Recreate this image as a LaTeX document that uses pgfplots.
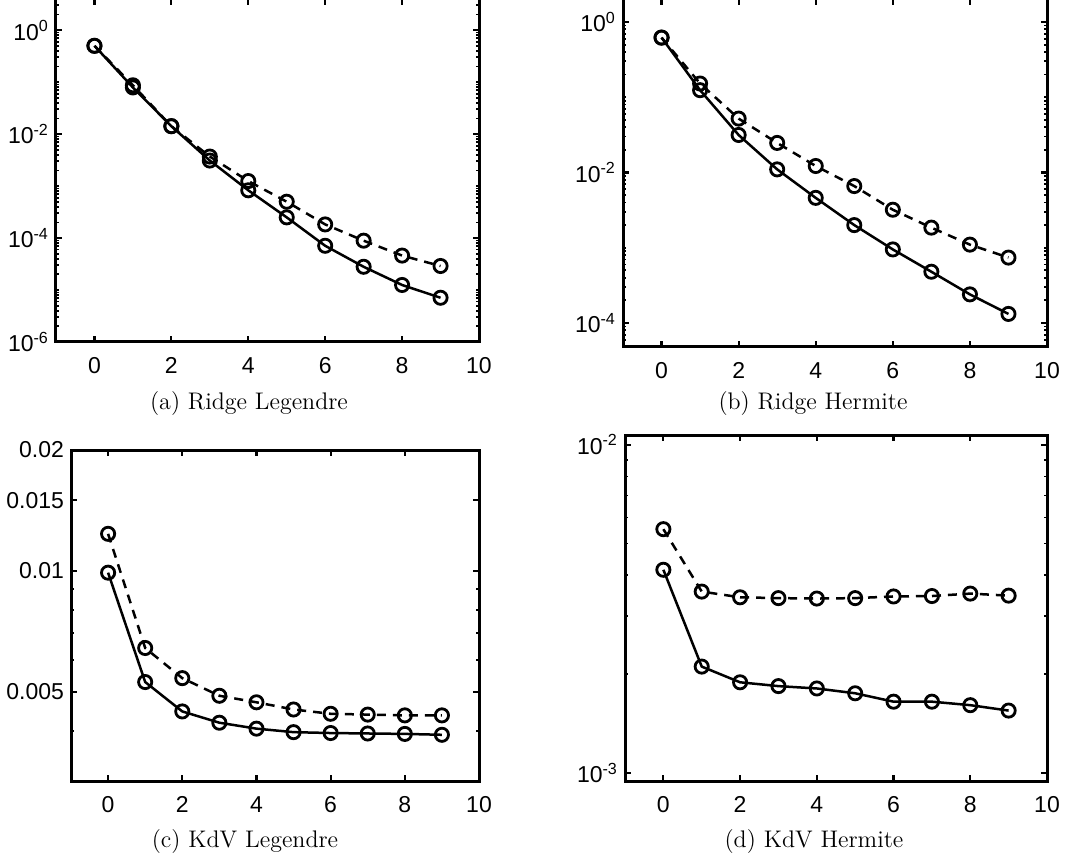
\documentclass[border=0pt]{standalone}
\usepackage{fontspec}
\usepackage{pgfplots}
\pgfplotsset{compat=1.18}
\newfontfamily\tickfont{Liberation Sans}

\pgfplotsset{
  mypanel/.style={
    scale only axis,
    xmin=-1, xmax=10,
    xtick={0,2,4,6,8,10},
    xticklabels={0,2,4,6,8,10},
    tick align=inside,
    axis line style={line width=1.5pt},
    major tick length=2.8pt,
    minor tick length=1.6pt,
    major tick style={black, line width=1.1pt},
    minor tick style={black, line width=0.9pt},
    ticklabel style={font=\tickfont\fontsize{11.5}{14}\selectfont},
    xticklabel style={yshift=-4.4pt},
  },
  solline/.style={black, line width=1.25pt, mark=o, mark size=3.3pt,
    mark options={solid, line width=1.4pt}},
  dashline/.style={solline, dash pattern=on 4.5pt off 3.5pt},
}

\begin{document}
\begin{tikzpicture}
\useasboundingbox (0,0) rectangle (540.5pt,427.5pt);

% (a) Ridge Legendre
\begin{axis}[ymode=log, mypanel, at={(28pt,256.5pt)}, anchor=south west,
  width=211.5pt, height=171.5pt,
  ymin=1e-6, ymax=3.98,
  ytick={1e-6,1e-4,1e-2,1},
  yticklabels={10\textsuperscript{-6},10\textsuperscript{-4},10\textsuperscript{-2},10\textsuperscript{0}},
  minor ytick={2e-6,3e-6,4e-6,5e-6,6e-6,7e-6,8e-6,9e-6,1e-5,2e-5,3e-5,4e-5,5e-5,6e-5,7e-5,8e-5,9e-5,
    2e-4,3e-4,4e-4,5e-4,6e-4,7e-4,8e-4,9e-4,1e-3,2e-3,3e-3,4e-3,5e-3,6e-3,7e-3,8e-3,9e-3,
    2e-2,3e-2,4e-2,5e-2,6e-2,7e-2,8e-2,9e-2,1e-1,2e-1,3e-1,4e-1,5e-1,6e-1,7e-1,8e-1,9e-1,2,3}]
\addplot[dashline] coordinates {(0,0.50) (1,0.087) (2,0.0142) (3,0.0037) (4,1.25e-3) (5,5.0e-4) (6,1.83e-4) (7,8.9e-5) (8,4.6e-5) (9,2.9e-5)};
\addplot[solline] coordinates {(0,0.50) (1,0.079) (2,0.0142) (3,0.0031) (4,8.3e-4) (5,2.5e-4) (6,7.1e-5) (7,2.8e-5) (8,1.25e-5) (9,7.1e-6)};
\end{axis}

% (b) Ridge Hermite
\begin{axis}[ymode=log, mypanel, at={(311.5pt,254pt)}, anchor=south west,
  width=212pt, height=174pt,
  ymin=4.8e-5, ymax=2.02,
  ytick={1e-4,1e-2,1},
  yticklabels={10\textsuperscript{-4},10\textsuperscript{-2},10\textsuperscript{0}},
  minor ytick={5e-5,6e-5,7e-5,8e-5,9e-5,2e-4,3e-4,4e-4,5e-4,6e-4,7e-4,8e-4,9e-4,1e-3,
    2e-3,3e-3,4e-3,5e-3,6e-3,7e-3,8e-3,9e-3,2e-2,3e-2,4e-2,5e-2,6e-2,7e-2,8e-2,9e-2,1e-1,
    2e-1,3e-1,4e-1,5e-1,6e-1,7e-1,8e-1,9e-1}]
\addplot[dashline] coordinates {(0,0.62) (1,0.152) (2,0.052) (3,0.0247) (4,0.0122) (5,6.6e-3) (6,3.2e-3) (7,1.85e-3) (8,1.1e-3) (9,7.4e-4)};
\addplot[solline] coordinates {(0,0.62) (1,0.124) (2,0.0315) (3,0.011) (4,4.6e-3) (5,2.0e-3) (6,9.5e-4) (7,4.8e-4) (8,2.4e-4) (9,1.32e-4)};
\end{axis}

% (c) KdV Legendre
\begin{axis}[ymode=log, mypanel, at={(35.5pt,37pt)}, anchor=south west,
  width=204pt, height=165.5pt,
  ymin=0.003, ymax=0.02,
  ytick={0.005,0.01,0.015,0.02},
  yticklabels={0.005,0.01,0.015,0.02},
  minor ytick={3e-3,4e-3,6e-3,7e-3,8e-3,9e-3}]
\addplot[dashline] coordinates {(0,0.01237) (1,0.00643) (2,0.00541) (3,0.00489) (4,0.00471) (5,0.00452) (6,0.00441) (7,0.00439) (8,0.00437) (9,0.00437)};
\addplot[solline] coordinates {(0,0.0099) (1,0.00529) (2,0.00447) (3,0.00419) (4,0.00405) (5,0.00397) (6,0.00395) (7,0.00394) (8,0.00393) (9,0.00391)};
\end{axis}

% (d) KdV Hermite
\begin{axis}[ymode=log, mypanel, at={(312.5pt,37pt)}, anchor=south west,
  width=211pt, height=173pt,
  ymin=9.46e-4, ymax=1.07e-2,
  ytick={1e-3,1e-2},
  yticklabels={10\textsuperscript{-3},10\textsuperscript{-2}},
  minor ytick={2e-3,3e-3,4e-3,5e-3,6e-3,7e-3,8e-3,9e-3}]
\addplot[dashline] coordinates {(0,5.53e-3) (1,3.57e-3) (2,3.43e-3) (3,3.41e-3) (4,3.40e-3) (5,3.41e-3) (6,3.45e-3) (7,3.46e-3) (8,3.52e-3) (9,3.47e-3)};
\addplot[solline] coordinates {(0,4.16e-3) (1,2.11e-3) (2,1.89e-3) (3,1.84e-3) (4,1.81e-3) (5,1.75e-3) (6,1.65e-3) (7,1.65e-3) (8,1.61e-3) (9,1.55e-3)};
\end{axis}

\begin{scope}[every node/.style={font=\fontsize{12}{14}\selectfont}]
\node at (124.5pt,225.5pt) {(a) Ridge Legendre};
\node at (406.5pt,225.5pt) {(b) Ridge Hermite};
\node at (122.5pt,6.5pt) {(c) KdV Legendre};
\node at (407pt,6.5pt) {(d) KdV Hermite};
\end{scope}
\end{tikzpicture}
\end{document}
